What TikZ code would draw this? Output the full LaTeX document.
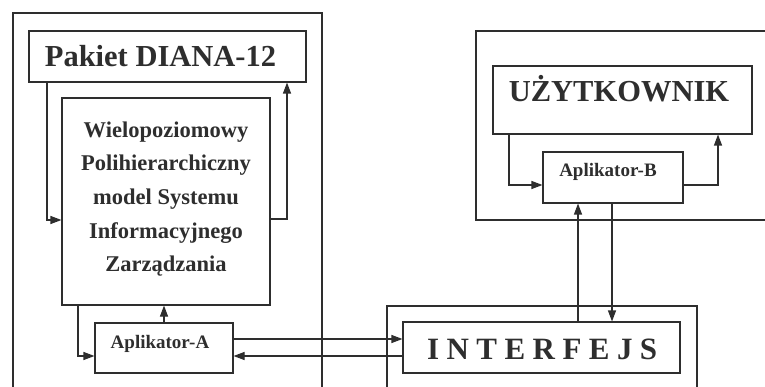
\documentclass[tikz,border=0pt]{standalone}
\usepackage{fontspec}
\setmainfont{Liberation Serif}
\usetikzlibrary{arrows.meta}
\definecolor{ink}{HTML}{2E2E2E}
\begin{document}
\begin{tikzpicture}[x=1pt,y=-1pt,
  frame/.style={draw=ink,line width=1.1pt},
  boxnode/.style={draw=ink,line width=1.1pt,inner sep=0pt,rectangle},
  lbl/.style={inner sep=0pt,text=ink,font=\bfseries},
  arr/.style={draw=ink,line width=1.1pt,-{Triangle[length=11pt,width=8pt]}}]
\useasboundingbox (0,0) rectangle (765,387);
\clip (0,0) rectangle (765,387);
\fill[white] (0,0) rectangle (765,387);
% outer frames
\draw[frame] (13,395) -- (13,13) -- (322,13) -- (322,395);
\draw[frame] (775,31) -- (476,31) -- (476,220) -- (775,220);
\draw[frame] (387,395) -- (387,306) -- (697,306) -- (697,395);
% boxes
\node[boxnode,minimum width=277pt,minimum height=51pt] (pak) at (167.5,56.5) {};
\node[boxnode,minimum width=208pt,minimum height=207pt] (wie) at (166,201.5) {};
\node[boxnode,minimum width=138pt,minimum height=50pt] (apa) at (164,348) {};
\node[boxnode,minimum width=259pt,minimum height=68pt] (uzy) at (622.5,100) {};
\node[boxnode,minimum width=140pt,minimum height=51pt] (apb) at (613,177.5) {};
\node[boxnode,minimum width=277pt,minimum height=51pt] (int) at (541.5,347.5) {};
% texts
\node[lbl,anchor=base,font=\bfseries\fontsize{30.5}{32}\selectfont] (tpak) at (160.5,67) {Pakiet DIANA-12};
\node[lbl,anchor=base,align=center,font=\bfseries\fontsize{22.5}{33.7}\selectfont] (twie) at (166,272)
  {Wielopoziomowy\\Polihierarchiczny\\model Systemu\\Informacyjnego\\Zarządzania};
\node[lbl,anchor=base,font=\bfseries\fontsize{19}{21}\selectfont] (tapa) at (160,348) {Aplikator-A};
\node[lbl,anchor=base,font=\bfseries\fontsize{30.5}{32}\selectfont] (tuzy) at (619,102) {UŻYTKOWNIK};
\node[lbl,anchor=base,font=\bfseries\fontsize{19}{21}\selectfont] (tapb) at (608,177) {Aplikator-B};
\node[lbl,anchor=base west,font=\bfseries\fontsize{31}{33}\selectfont\addfontfeature{LetterSpace=24}] (tint) at (427,359) {INTERFEJS};
% bend coordinates
\coordinate (c1) at (47,220);
\coordinate (c2) at (287,219);
\coordinate (c3) at (78,356);
\coordinate (c4) at (0,339);
\coordinate (c5) at (0,356);
\coordinate (c6) at (509,185);
\coordinate (c7) at (718,185);
\coordinate (c8) at (578,0);
\coordinate (c9) at (612,0);
% connectors
\draw[arr] (pak.south -| c1) -- (c1) -- (wie.west |- c1);
\draw[arr] (wie.east |- c2) -- (c2) -- (pak.south -| c2);
\draw[arr] (apa.north) -- (wie.south -| apa.north);
\draw[arr] (wie.south -| c3) -- (c3) -- (apa.west |- c3);
\draw[arr] (apa.east |- c4) -- (int.west |- c4);
\draw[arr] (int.west |- c5) -- (apa.east |- c5);
\draw[arr] (uzy.south -| c6) -- (c6) -- (apb.west |- c6);
\draw[arr] (apb.east |- c7) -- (c7) -- (uzy.south -| c7);
\draw[arr] (int.north -| c8) -- (apb.south -| c8);
\draw[arr] (apb.south -| c9) -- (int.north -| c9);
\end{tikzpicture}
\end{document}
